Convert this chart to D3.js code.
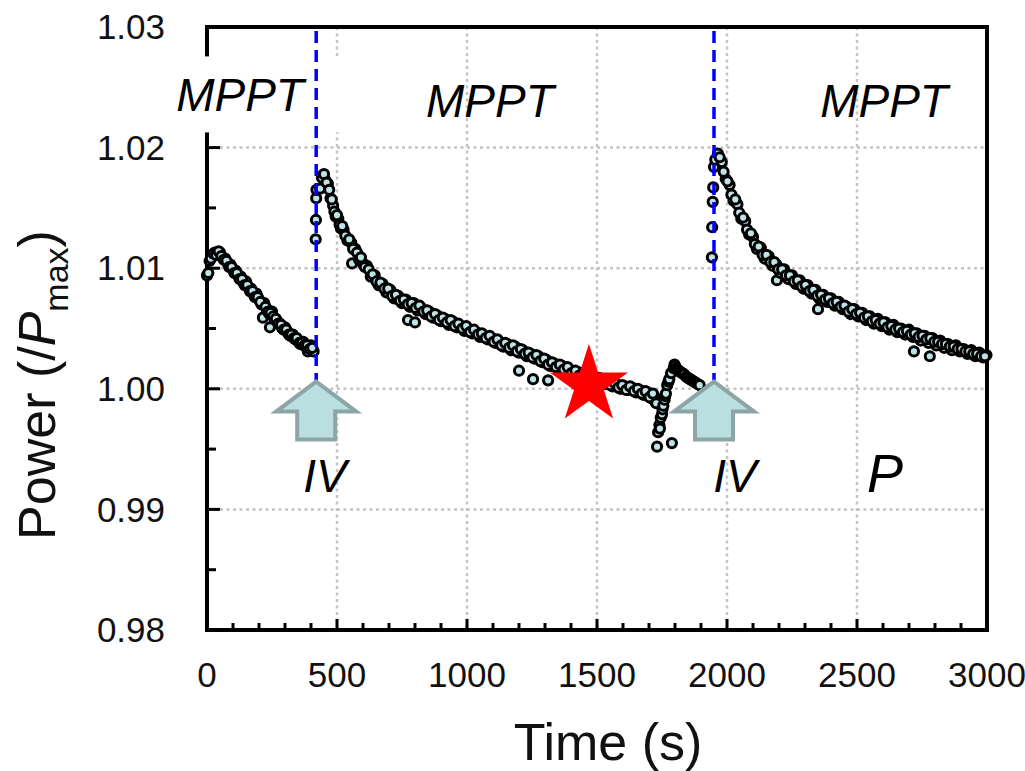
<!DOCTYPE html>
<html>
<head>
<meta charset="utf-8">
<script src="https://cdn.jsdelivr.net/npm/d3@7"></script>
<style>
  body { margin: 0; background: #fff; }
  svg { font-family: "Liberation Sans", Arial, sans-serif; }
</style>
</head>
<body>
<svg width="1025" height="771"></svg>
<script>
// MPPT segment before first IV scan (two interleaved readings)
let seg1T = [0, 5, 10, 20, 30, 40, 50, 60, 70, 80, 90, 100, 110, 120, 130, 140, 150, 160, 170, 180,
  190, 200, 210, 215, 220, 230, 240, 242, 250, 260, 270, 280, 290, 300, 310, 320, 330, 340, 350, 360,
  370, 380, 388, 390, 400, 410];
let seg1V = [1.0094, 1.0096, 1.0106, 1.0110, 1.0113, 1.0112, 1.0113, 1.0109, 1.0108, 1.0104, 1.0103, 1.0099, 1.0098, 1.0094, 1.0093, 1.0088, 1.0089, 1.0084, 1.0083, 1.0078,
  1.0079, 1.0074, 1.0070, 1.0059, 1.0071, 1.0066, 1.0062, 1.0051, 1.0064, 1.0058, 1.0056, 1.0054, 1.0050, 1.0051, 1.0047, 1.0044, 1.0045, 1.0041, 1.0040, 1.0037,
  1.0039, 1.0035, 1.0031, 1.0034, 1.0036, 1.0031];
let seg1bT = [15, 25, 35, 45, 55, 65, 75, 85, 95, 105, 115, 125, 135, 145, 155, 165, 175, 185, 195, 205,
  225, 235, 245, 255, 265, 275, 285, 295, 305, 315, 325, 335, 345, 355, 365, 375, 385, 395, 405];
let seg1bV = [1.0108, 1.0112, 1.0111, 1.0114, 1.0110, 1.0107, 1.0106, 1.0101, 1.0101, 1.0096, 1.0096, 1.0091, 1.0091, 1.0086, 1.0086, 1.0081, 1.0081, 1.0076, 1.0076, 1.0072,
  1.0068, 1.0064, 1.0063, 1.0060, 1.0058, 1.0054, 1.0053, 1.0049, 1.0049, 1.0045, 1.0045, 1.0042, 1.0042, 1.0038, 1.0038, 1.0036, 1.0036, 1.0033, 1.0034];

// points recorded during the IV scans
let ivT = [418, 419, 420, 421, 1942, 1943, 1945, 1947, 1950, 1955];
let ivV = [1.0124, 1.0140, 1.0158, 1.0165, 1.0109, 1.0134, 1.0155, 1.0167, 1.0184, 1.0190];

// MPPT segment after first IV scan
let seg2T = [435, 445, 455, 465, 475, 485, 495, 505, 515, 525, 540, 555, 558, 570, 585, 600, 615, 630, 645, 660,
  675, 690, 705, 720, 735, 750, 765, 773, 780, 795, 800, 810, 825, 840, 855, 870, 885, 900, 915, 930,
  945, 960, 975, 990, 1005, 1020, 1035, 1050, 1065, 1080, 1095, 1110, 1125, 1140, 1155, 1170, 1185, 1200, 1200, 1215,
  1230, 1245, 1254, 1260, 1275, 1290, 1305, 1312, 1320, 1335, 1350, 1365, 1380, 1395, 1410, 1425, 1440, 1455, 1470, 1485,
  1500, 1515, 1530, 1545, 1560, 1575, 1590, 1605, 1620, 1635, 1650, 1665, 1680, 1695, 1710, 1720, 1725];
let seg2V = [1.0166, 1.0177, 1.0173, 1.0170, 1.0158, 1.0152, 1.0143, 1.0141, 1.0133, 1.0132, 1.0123, 1.0121, 1.0104, 1.0116, 1.0107, 1.0104, 1.0102, 1.0093, 1.0094, 1.0086,
  1.0087, 1.0080, 1.0082, 1.0075, 1.0077, 1.0071, 1.0074, 1.0057, 1.0068, 1.0071, 1.0055, 1.0065, 1.0067, 1.0062, 1.0064, 1.0059, 1.0061, 1.0056, 1.0058, 1.0053,
  1.0056, 1.0051, 1.0052, 1.0048, 1.0049, 1.0046, 1.0047, 1.0043, 1.0044, 1.0041, 1.0042, 1.0038, 1.0039, 1.0035, 1.0037, 1.0032, 1.0035, 1.0030, 1.0015, 1.0032,
  1.0027, 1.0029, 1.0008, 1.0025, 1.0027, 1.0022, 1.0024, 1.0007, 1.0019, 1.0021, 1.0017, 1.0019, 1.0015, 1.0016, 1.0012, 1.0014, 1.0010, 1.0012, 1.0008, 1.0009,
  1.0006, 1.0008, 1.0004, 1.0006, 1.0002, 1.0004, 1.0000, 1.0002, 0.9999, 1.0001, 0.9997, 0.9999, 0.9995, 0.9997, 0.9992, 0.9994, 0.9989];
let seg2bT = [442, 450, 460, 470, 480, 490, 500, 510, 520, 532, 547, 562, 577, 592, 607, 622, 637, 652, 667, 682,
  697, 712, 727, 742, 757, 772, 787, 802, 817, 832, 847, 862, 877, 892, 907, 922, 937, 952, 967, 982,
  997, 1012, 1027, 1042, 1057, 1072, 1087, 1102, 1117, 1132, 1147, 1162, 1177, 1192, 1207, 1222, 1237, 1252, 1267, 1282,
  1297, 1312, 1327, 1342, 1357, 1372, 1387, 1402, 1417, 1432, 1447, 1462, 1477, 1492, 1507, 1522, 1537, 1552, 1567, 1582,
  1597, 1612, 1627, 1642, 1657, 1672, 1687, 1702, 1715];
let seg2bV = [1.0175, 1.0178, 1.0171, 1.0165, 1.0157, 1.0147, 1.0144, 1.0136, 1.0135, 1.0127, 1.0124, 1.0116, 1.0113, 1.0109, 1.0101, 1.0099, 1.0095, 1.0089, 1.0088, 1.0083,
  1.0083, 1.0077, 1.0078, 1.0073, 1.0074, 1.0070, 1.0071, 1.0067, 1.0069, 1.0064, 1.0065, 1.0060, 1.0062, 1.0057, 1.0059, 1.0055, 1.0057, 1.0052, 1.0054, 1.0050,
  1.0052, 1.0047, 1.0049, 1.0045, 1.0046, 1.0042, 1.0044, 1.0039, 1.0041, 1.0036, 1.0038, 1.0034, 1.0036, 1.0031, 1.0033, 1.0029, 1.0030, 1.0026, 1.0028, 1.0023,
  1.0025, 1.0020, 1.0022, 1.0018, 1.0020, 1.0016, 1.0018, 1.0013, 1.0015, 1.0011, 1.0013, 1.0009, 1.0011, 1.0007, 1.0009, 1.0005, 1.0007, 1.0003, 1.0005, 1.0001,
  1.0003, 0.9999, 1.0002, 0.9998, 1.0000, 0.9996, 0.9998, 0.9993, 0.9996];

// drop and recovery before second IV scan
let dipT = [1728, 1731, 1735, 1740, 1742, 1745, 1750, 1752, 1755, 1760, 1762, 1765, 1770, 1775, 1778, 1785, 1788, 1795, 1798, 1800,
  1805, 1810, 1815, 1820, 1828, 1835, 1843, 1850, 1858, 1865, 1873, 1880, 1888, 1895];
let dipV = [0.9988, 0.9952, 0.9964, 0.9970, 0.9967, 0.9976, 0.9979, 0.9983, 0.9986, 0.9991, 0.9994, 0.9996, 1.0003, 1.0006, 1.0008, 1.0013, 0.9955, 1.0017, 1.0020, 1.0019,
  1.0017, 1.0016, 1.0015, 1.0014, 1.0013, 1.0012, 1.0010, 1.0009, 1.0008, 1.0007, 1.0006, 1.0005, 1.0004, 1.0003];

// MPPT segment after second IV scan
let seg3T = [1965, 1980, 1995, 2010, 2025, 2040, 2055, 2070, 2085, 2100, 2115, 2130, 2145, 2160, 2175, 2190, 2192, 2205, 2220, 2235,
  2250, 2265, 2280, 2295, 2310, 2325, 2340, 2350, 2355, 2370, 2385, 2400, 2415, 2430, 2445, 2460, 2475, 2490, 2505, 2520,
  2535, 2550, 2565, 2580, 2595, 2610, 2625, 2640, 2655, 2670, 2685, 2700, 2715, 2719, 2730, 2745, 2760, 2775, 2780, 2790,
  2805, 2820, 2835, 2850, 2865, 2880, 2895, 2910, 2925, 2940, 2955, 2970, 2985, 2998];
let seg3V = [1.0195, 1.0188, 1.0174, 1.0169, 1.0156, 1.0153, 1.0141, 1.0139, 1.0128, 1.0126, 1.0116, 1.0117, 1.0108, 1.0110, 1.0102, 1.0103, 1.0090, 1.0096, 1.0099, 1.0091,
  1.0094, 1.0087, 1.0090, 1.0083, 1.0086, 1.0079, 1.0082, 1.0066, 1.0075, 1.0078, 1.0072, 1.0075, 1.0069, 1.0072, 1.0066, 1.0068, 1.0062, 1.0066, 1.0060, 1.0063,
  1.0057, 1.0060, 1.0054, 1.0058, 1.0052, 1.0055, 1.0049, 1.0053, 1.0047, 1.0050, 1.0045, 1.0049, 1.0043, 1.0031, 1.0046, 1.0040, 1.0044, 1.0038, 1.0027, 1.0042,
  1.0036, 1.0040, 1.0034, 1.0037, 1.0032, 1.0036, 1.0031, 1.0033, 1.0029, 1.0032, 1.0027, 1.0030, 1.0026, 1.0028];
let seg3bT = [1972, 1987, 2002, 2017, 2032, 2047, 2062, 2077, 2092, 2107, 2122, 2137, 2152, 2167, 2182, 2197, 2212, 2227, 2242, 2257,
  2272, 2287, 2302, 2317, 2332, 2347, 2362, 2377, 2392, 2407, 2422, 2437, 2452, 2467, 2482, 2497, 2512, 2527, 2542, 2557,
  2572, 2587, 2602, 2617, 2632, 2647, 2662, 2677, 2692, 2707, 2722, 2737, 2752, 2767, 2782, 2797, 2812, 2827, 2842, 2857,
  2872, 2887, 2902, 2917, 2932, 2947, 2962, 2977, 2992];
let seg3bV = [1.0192, 1.0180, 1.0172, 1.0161, 1.0157, 1.0146, 1.0142, 1.0132, 1.0129, 1.0120, 1.0118, 1.0111, 1.0111, 1.0105, 1.0105, 1.0099, 1.0099, 1.0094, 1.0094, 1.0089,
  1.0090, 1.0085, 1.0086, 1.0081, 1.0082, 1.0077, 1.0078, 1.0074, 1.0075, 1.0071, 1.0072, 1.0068, 1.0069, 1.0064, 1.0066, 1.0062, 1.0063, 1.0059, 1.0060, 1.0056,
  1.0057, 1.0054, 1.0055, 1.0051, 1.0052, 1.0049, 1.0050, 1.0047, 1.0048, 1.0045, 1.0046, 1.0043, 1.0044, 1.0041, 1.0042, 1.0039, 1.0039, 1.0037, 1.0037, 1.0035,
  1.0035, 1.0033, 1.0033, 1.0031, 1.0031, 1.0029, 1.0029, 1.0027, 1.0027];

let xTicks = [0, 500, 1000, 1500, 2000, 2500, 3000];
let yTicks = [0.98, 0.99, 1.00, 1.01, 1.02, 1.03];
let ivTimes = [420, 1950];
let starPos = [1469, 1.0003];
let labels = [
  {text: "MPPT", t: 127, v: 1.0230, size: 46},
  {text: "MPPT", t: 1088, v: 1.0225, size: 46},
  {text: "MPPT", t: 2604, v: 1.0225, size: 46},
  {text: "IV", t: 454, v: 0.99144, size: 46},
  {text: "IV", t: 2031, v: 0.99144, size: 46},
  {text: "P", t: 2608, v: 0.99144, size: 54}
];

let svg = d3.select("svg");

let x = d3.scaleLinear().domain([0, 3000]).range([207, 987]),
    y = d3.scaleLinear().domain([0.98, 1.03]).range([630, 27]);

let pts = [];
[[seg1T, seg1V], [seg1bT, seg1bV], [ivT, ivV], [seg2T, seg2V], [seg2bT, seg2bV],
 [dipT, dipV], [seg3T, seg3V], [seg3bT, seg3bV]].forEach(([ts, vs]) => {
  ts.forEach((t, i) => pts.push({t: t, v: vs[i]}));
});

// dotted grid
let grid = svg.append("g").attr("stroke", "#c4c4c4").attr("stroke-width", 2.5)
    .attr("stroke-dasharray", "3,3.5");
grid.selectAll(".gx").data(xTicks.slice(1, -1)).enter().append("line")
    .attr("x1", (d) => x(d)).attr("x2", (d) => x(d))
    .attr("y1", y(1.03)).attr("y2", y(0.98));
grid.selectAll(".gy").data(yTicks.slice(1, -1)).enter().append("line")
    .attr("x1", x(0)).attr("x2", x(3000))
    .attr("y1", (d) => y(d)).attr("y2", (d) => y(d));

// inward ticks
let tk = svg.append("g").attr("stroke", "#000").attr("stroke-width", 3);
tk.selectAll(".tx").data(d3.range(100, 3000, 100)).enter().append("line")
    .attr("x1", (d) => x(d)).attr("x2", (d) => x(d))
    .attr("y1", y(0.98)).attr("y2", (d) => y(0.98) - (d % 500 === 0 ? 11 : 7));
tk.selectAll(".ty").data(d3.range(1, 10)).enter().append("line")
    .attr("x1", x(0)).attr("x2", (d) => x(0) + (d % 2 === 0 ? 13 : 9))
    .attr("y1", (d) => y(0.98 + d * 0.005)).attr("y2", (d) => y(0.98 + d * 0.005));

// frame
svg.append("rect")
    .attr("x", x(0)).attr("y", y(1.03))
    .attr("width", x(3000) - x(0)).attr("height", y(0.98) - y(1.03))
    .attr("fill", "none").attr("stroke", "#000").attr("stroke-width", 4);

// tick labels
svg.append("g").selectAll("text").data(xTicks).enter().append("text")
    .attr("x", (d) => x(d)).attr("y", y(0.98) + 57)
    .attr("text-anchor", "middle").attr("font-size", 35).attr("fill", "#111")
    .text((d) => d);
svg.append("g").selectAll("text").data(yTicks).enter().append("text")
    .attr("x", x(0) - 42).attr("y", (d) => y(d)).attr("dy", "0.35em")
    .attr("text-anchor", "end").attr("font-size", 35).attr("fill", "#111")
    .text((d) => d3.format(".2f")(d));

// axis titles
svg.append("text")
    .attr("x", 608).attr("y", 760)
    .attr("text-anchor", "middle").attr("font-size", 52).attr("fill", "#111")
    .text("Time (s)");
let yt = svg.append("text")
    .attr("transform", "translate(55,385) rotate(-90)")
    .attr("text-anchor", "middle").attr("font-size", 52).attr("fill", "#111");
yt.append("tspan").text("Power (/");
yt.append("tspan").attr("font-style", "italic").text("P");
yt.append("tspan").attr("font-size", 34).attr("dy", 13).text("max");
yt.append("tspan").attr("dy", -13).text(")");

// data points
svg.append("g").selectAll("circle").data(pts).enter().append("circle")
    .attr("cx", (d) => x(d.t)).attr("cy", (d) => y(d.v)).attr("r", 4.6)
    .attr("fill", "#bfe3e5").attr("stroke", "#000").attr("stroke-width", 3);

// white box behind first label
svg.append("rect")
    .attr("x", x(labels[0].t) - 75).attr("y", y(labels[0].v) - 55)
    .attr("width", 180).attr("height", 76).attr("fill", "#fff");

// IV markers
svg.append("g").selectAll("line").data(ivTimes).enter().append("line")
    .attr("x1", (d) => x(d)).attr("x2", (d) => x(d))
    .attr("y1", y(1.03) + 4).attr("y2", y(1.0006))
    .attr("stroke", "#0000ff").attr("stroke-width", 3.5).attr("stroke-dasharray", "12,7");

let arrow = (cx, ty) => `M${cx},${ty} L${cx + 40},${ty + 30} L${cx + 19},${ty + 30} L${cx + 19},${ty + 58}
  L${cx - 19},${ty + 58} L${cx - 19},${ty + 30} L${cx - 40},${ty + 30} Z`;
svg.append("g").selectAll("path").data(ivTimes).enter().append("path")
    .attr("d", (d) => arrow(x(d), y(1.0006)))
    .attr("fill", "#b9dfe1").attr("stroke", "#8ea5a7").attr("stroke-width", 4)
    .attr("stroke-linejoin", "miter");

// red star
let star = d3.symbol().type(d3.symbolStar).size(1900);
svg.append("path")
    .attr("transform", `translate(${x(starPos[0])},${y(starPos[1])})`)
    .attr("d", star()).attr("fill", "#ff0000");

// annotations
svg.append("g").selectAll("text").data(labels).enter().append("text")
    .attr("x", (d) => x(d.t)).attr("y", (d) => y(d.v))
    .attr("text-anchor", "middle").attr("font-style", "italic")
    .attr("font-size", (d) => d.size).attr("fill", "#000")
    .text((d) => d.text);
</script>
</body>
</html>
